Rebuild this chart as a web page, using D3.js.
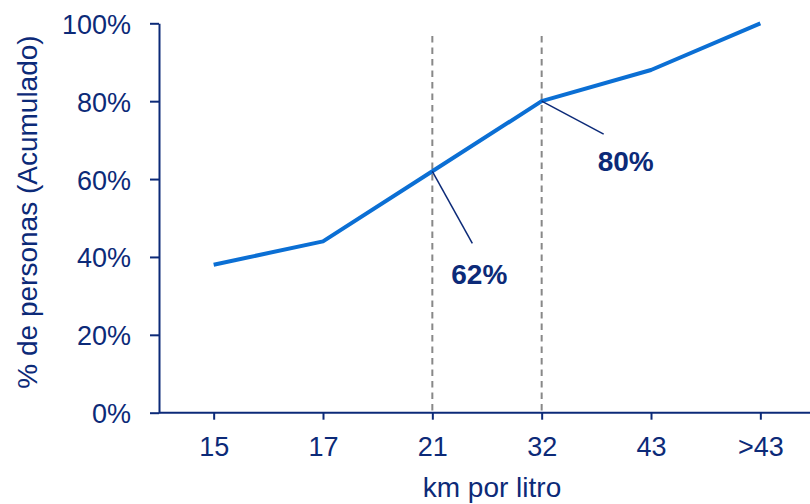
<!DOCTYPE html>
<html>
<head>
<meta charset="utf-8">
<script src="https://cdn.jsdelivr.net/npm/d3@7"></script>
<style>
  html, body { margin: 0; padding: 0; background: #fff; }
  svg { display: block; font-family: "Liberation Sans", Arial, sans-serif; }
</style>
</head>
<body>
<svg id="chart" width="810" height="504"></svg>
<script>
// Cumulative share of people by fuel efficiency
const categories = ["15", "17", "21", "32", "43", ">43"];
const cumulative = [0.38, 0.44, 0.62, 0.80, 0.88, 1.00];
const yTicks = [0, 0.2, 0.4, 0.6, 0.8, 1.0];
const markedCategories = ["21", "32"];
const callouts = [
  { cat: "21", value: 0.62, text: "62%" },
  { cat: "32", value: 0.80, text: "80%" }
];

const navy = "#0c2a78";
const blue = "#0b6fd4";
const svg = d3.select("#chart");

const plot = { left: 159, right: 815, top: 23.3, bottom: 412.7 };

const x = d3.scalePoint().domain(categories).range([plot.left, plot.right]).padding(0.5);
const y = d3.scaleLinear().domain([0, 1]).range([plot.bottom, plot.top]);

// Dashed reference lines
svg.append("g").selectAll("line")
  .data(markedCategories)
  .join("line")
  .attr("x1", d => x(d)).attr("x2", d => x(d))
  .attr("y1", 36).attr("y2", plot.bottom)
  .attr("stroke", "#888").attr("stroke-width", 2)
  .attr("stroke-dasharray", "6.5,5");

// Y axis
const yAxis = svg.append("g")
  .attr("transform", `translate(${plot.left},0)`)
  .call(d3.axisLeft(y).tickValues(yTicks).tickFormat(d3.format(".0%")).tickSize(9).tickSizeOuter(0).tickPadding(19));
yAxis.select(".domain").attr("stroke", navy).attr("stroke-width", 2);
yAxis.selectAll(".tick line").attr("stroke", navy).attr("stroke-width", 2);
yAxis.selectAll(".tick text").attr("fill", navy).attr("font-size", 27).attr("dy", "0.37em")
  .style("font-family", "'Liberation Sans', Arial, sans-serif");

// X axis
const xAxis = svg.append("g")
  .attr("transform", `translate(0,${plot.bottom})`)
  .call(d3.axisBottom(x).tickSize(7).tickSizeOuter(0).tickPadding(17));
xAxis.select(".domain").attr("stroke", navy).attr("stroke-width", 2)
  .attr("d", `M${plot.left},0H810`);
xAxis.selectAll(".tick line").attr("stroke", navy).attr("stroke-width", 2);
xAxis.selectAll(".tick text").attr("fill", navy).attr("font-size", 27)
  .style("font-family", "'Liberation Sans', Arial, sans-serif");

// Cumulative line
svg.append("path")
  .datum(categories.map((c, i) => [c, cumulative[i]]))
  .attr("fill", "none")
  .attr("stroke", blue)
  .attr("stroke-width", 4)
  .attr("stroke-linejoin", "round")
  .attr("d", d3.line().x(d => x(d[0])).y(d => y(d[1])));

// Callout leaders and labels
const leaderOffsets = { "21": { dx: 40, dy: 72, lx: 47, ly: 113 }, "32": { dx: 62, dy: 33, lx: 84, ly: 70 } };
const cg = svg.append("g");
callouts.forEach(c => {
  const px = x(c.cat), py = y(c.value);
  const o = leaderOffsets[c.cat];
  cg.append("line")
    .attr("x1", px).attr("y1", py)
    .attr("x2", px + o.dx).attr("y2", py + o.dy)
    .attr("stroke", navy).attr("stroke-width", 1.5);
  cg.append("text")
    .attr("x", px + o.lx).attr("y", py + o.ly)
    .attr("text-anchor", "middle")
    .attr("fill", navy).attr("font-size", 28).attr("font-weight", "bold")
    .text(c.text);
});

// Axis titles
svg.append("text")
  .attr("x", 492).attr("y", 497)
  .attr("text-anchor", "middle")
  .attr("fill", navy).attr("font-size", 28)
  .text("km por litro");

svg.append("text")
  .attr("transform", "translate(37,212) rotate(-90)")
  .attr("text-anchor", "middle")
  .attr("fill", navy).attr("font-size", 28)
  .text("% de personas (Acumulado)");
</script>
</body>
</html>
